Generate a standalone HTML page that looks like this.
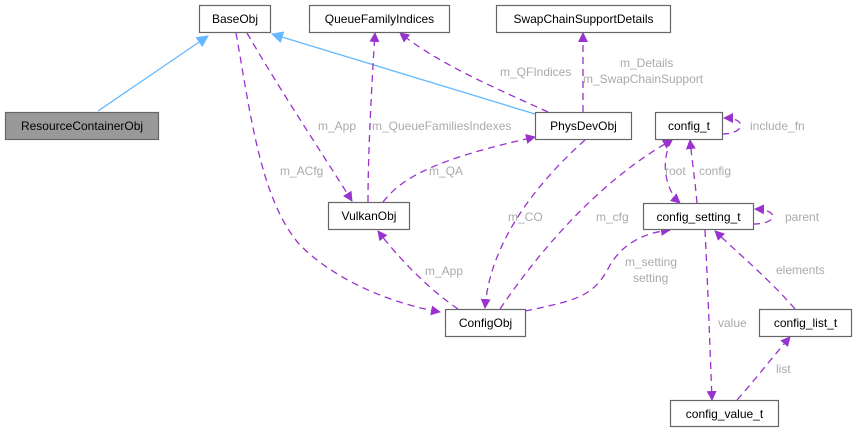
<!DOCTYPE html>
<html><head><meta charset="utf-8"><style>
body{margin:0;background:#fff;width:857px;height:432px;overflow:hidden}
svg text{font-family:"Liberation Sans",sans-serif;font-size:12px}
.n{fill:#fff;stroke:#666;stroke-width:1.2}
.t{fill:#000;text-anchor:middle}
.l{fill:#aaa}
.d{fill:none;stroke:#9a32cd;stroke-width:1.3;stroke-dasharray:7,5}
.s{fill:none;stroke:#63b8ff;stroke-width:1.3}
</style></head><body>
<svg width="857" height="432" viewBox="0 0 857 432">
<defs>
<marker id="p" markerWidth="10" markerHeight="10" refX="9" refY="5" orient="auto" markerUnits="userSpaceOnUse" viewBox="0 0 10 10"><path d="M0,0 L10,5 L0,10 z" fill="#9a32cd"/></marker>
<marker id="b" markerWidth="12" markerHeight="12" refX="11" refY="6" orient="auto" markerUnits="userSpaceOnUse" viewBox="0 0 12 12"><path d="M0,0 L12,6 L0,12 z" fill="#63b8ff"/></marker>
</defs>
<!-- edges -->
<path class="s" d="M98,111 L208,36" marker-end="url(#b)"/>
<path class="s" d="M535,114 L272,34" marker-end="url(#b)"/>
<path class="d" d="M247,33 C280,90 320,150 352,201" marker-end="url(#p)"/>
<path class="d" d="M236,33 C250,110 260,200 300,245 C340,285 400,305 440,312" marker-end="url(#p)"/>
<path class="d" d="M458,309 C430,290 400,260 378,231" marker-end="url(#p)"/>
<path class="d" d="M585,140 C540,180 490,240 485,308" marker-end="url(#p)"/>
<path class="d" d="M500,309 C540,250 600,180 672,140" marker-end="url(#p)"/>
<path class="d" d="M525,311 C580,300 595,295 610,265 C625,240 650,232 670,230" marker-end="url(#p)"/>
<path class="d" d="M368,202 C368,150 372,80 375,33" marker-end="url(#p)"/>
<path class="d" d="M383,202 C400,180 430,160 535,137" marker-end="url(#p)"/>
<path class="d" d="M548,112 C500,90 440,65 400,33" marker-end="url(#p)"/>
<path class="d" d="M583,112 L583,33" marker-end="url(#p)"/>
<path class="d" d="M722,134 C745,134 748,118 724,118" marker-end="url(#p)"/>
<path class="d" d="M672,140 C660,160 665,190 680,203" marker-end="url(#p)"/>
<path class="d" d="M697,203 C695,180 692,160 690,140" marker-end="url(#p)"/>
<path class="d" d="M753,224 C778,224 780,210 755,209" marker-end="url(#p)"/>
<path class="d" d="M705,230 C708,290 710,350 712,400" marker-end="url(#p)"/>
<path class="d" d="M795,309 C770,280 740,255 715,231" marker-end="url(#p)"/>
<path class="d" d="M737,400 C755,380 770,360 790,337" marker-end="url(#p)"/>
<!-- nodes -->
<rect class="n" x="199.5" y="5.5" width="71" height="27"/><text class="t" x="235" y="23">BaseObj</text>
<rect class="n" x="309.5" y="5.5" width="140" height="27"/><text class="t" x="379.5" y="23">QueueFamilyIndices</text>
<rect class="n" x="496.5" y="5.5" width="174" height="27"/><text class="t" x="583.5" y="23">SwapChainSupportDetails</text>
<rect x="5.5" y="112.5" width="153" height="27" fill="#999" stroke="#666" stroke-width="1.2"/><text class="t" x="82" y="130">ResourceContainerObj</text>
<rect class="n" x="535.5" y="112.5" width="96" height="27"/><text class="t" x="583.5" y="130">PhysDevObj</text>
<rect class="n" x="655.5" y="112.5" width="67" height="27"/><text class="t" x="689" y="130">config_t</text>
<rect class="n" x="328.5" y="202.5" width="81" height="27"/><text class="t" x="369" y="220">VulkanObj</text>
<rect class="n" x="643.5" y="203.5" width="110" height="26"/><text class="t" x="698.5" y="221">config_setting_t</text>
<rect class="n" x="445.5" y="309.5" width="80" height="27"/><text class="t" x="485.5" y="327">ConfigObj</text>
<rect class="n" x="759.5" y="309.5" width="92" height="27"/><text class="t" x="805.5" y="327">config_list_t</text>
<rect class="n" x="670.5" y="400.5" width="108" height="26"/><text class="t" x="724.5" y="418">config_value_t</text>
<!-- labels -->
<text class="l" x="318" y="130">m_App</text>
<text class="l" x="372" y="130">m_QueueFamiliesIndexes</text>
<text class="l" x="280" y="175">m_ACfg</text>
<text class="l" x="429" y="175">m_QA</text>
<text class="l" x="500" y="76">m_QFIndices</text>
<text class="l" x="620" y="67">m_Details</text>
<text class="l" x="583" y="83">m_SwapChainSupport</text>
<text class="l" x="750" y="130">include_fn</text>
<text class="l" x="665" y="175">root</text>
<text class="l" x="699" y="175">config</text>
<text class="l" x="508" y="221">m_CO</text>
<text class="l" x="596" y="221">m_cfg</text>
<text class="l" x="785" y="221">parent</text>
<text class="l" x="425" y="275">m_App</text>
<text class="l" x="625" y="266">m_setting</text>
<text class="l" x="633" y="282">setting</text>
<text class="l" x="776" y="274">elements</text>
<text class="l" x="718" y="327">value</text>
<text class="l" x="776" y="373">list</text>
</svg>
</body></html>
